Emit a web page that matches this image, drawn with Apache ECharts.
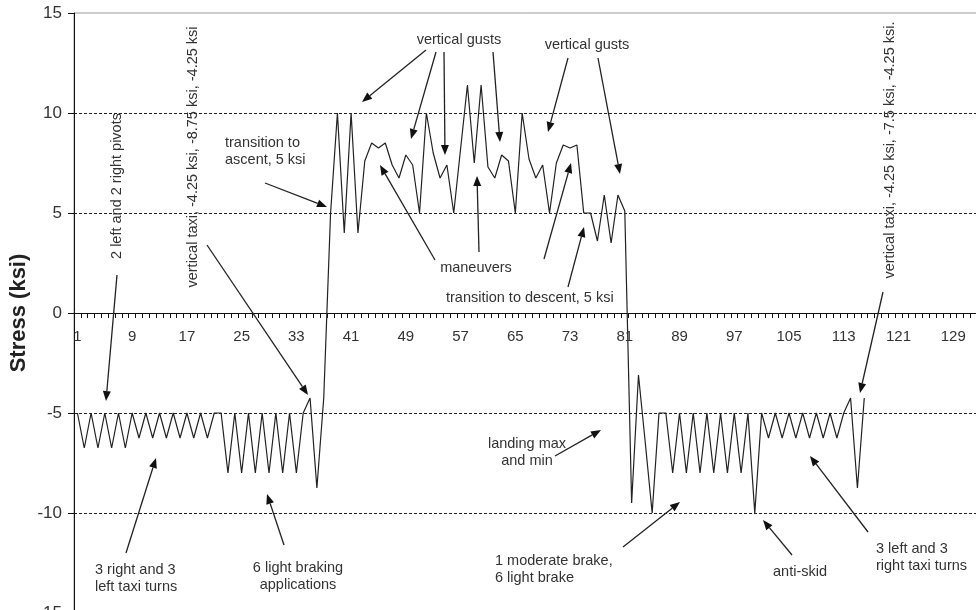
<!DOCTYPE html>
<html>
<head>
<meta charset="utf-8">
<script src="https://cdn.jsdelivr.net/npm/echarts@6/dist/echarts.min.js"></script>
<style>
html,body{margin:0;padding:0;background:#fff;}
#c{width:976px;height:610px;}
</style>
</head>
<body>
<div id="c"></div>
<script>
// ---- data ----
const categoryCount = 133;
const categories = Array.from({length: categoryCount}, (_, i) => String(i + 1));
const xTickLabels = ['1', '9', '17', '25', '33', '41', '49', '57', '65', '73', '81', '89', '97', '105', '113', '121', '129'];
const stress = [
  -5, -6.75, -5, -6.75, -5, -6.75, -5, -6.75, -5, -6.25,
  -5, -6.25, -5, -6.25, -5, -6.25, -5, -6.25, -5, -6.25,
  -5, -5, -8, -5, -8, -5, -8, -5, -8, -5,
  -8, -5, -8, -5, -4.25, -8.75, -4.25, 5, 10, 4,
  10, 4, 7.6, 8.5, 8.25, 8.5, 7.4, 6.75, 7.9, 7.4,
  5, 10, 8, 6.75, 7.4, 5, 8.2, 11.4, 7.5, 11.4,
  7.3, 6.75, 7.9, 7.6, 5, 10, 7.7, 6.75, 7.4, 5,
  7.5, 8.4, 8.25, 8.4, 5, 5, 3.6, 5.9, 3.5, 5.9,
  5.1, -9.5, -3.1, -6.5, -10, -5, -5, -8, -5, -8,
  -5, -8, -5, -8, -5, -8, -5, -8, -5, -10,
  -5, -6.25, -5, -6.25, -5, -6.25, -5, -6.25, -5, -6.25,
  -5, -6.25, -5, -4.25, -8.75, -4.25
];
const yTicks = {min: -15, max: 15, step: 5};
const yName = 'Stress (ksi)';

// ---- annotations (text and arrows, pixel layout) ----
const notes = [
  {t: 'vertical gusts', x: 459, y: 40, a: 'center'},
  {t: 'vertical gusts', x: 587, y: 45, a: 'center'},
  {t: 'transition to\nascent, 5 ksi', x: 225, y: 151, a: 'left'},
  {t: 'maneuvers', x: 476, y: 268, a: 'center'},
  {t: 'transition to descent, 5 ksi', x: 446, y: 298, a: 'left'},
  {t: 'landing max\nand min', x: 527, y: 452, a: 'center'},
  {t: '3 right and 3\nleft taxi turns', x: 95, y: 578, a: 'left'},
  {t: '6 light braking\napplications', x: 298, y: 576, a: 'center'},
  {t: '1 moderate brake,\n6 light brake', x: 495, y: 569, a: 'left'},
  {t: 'anti-skid', x: 800, y: 572, a: 'center'},
  {t: '3 left and 3\nright taxi turns', x: 876, y: 557, a: 'left'}
];
const vnotes = [
  {t: '2 left and 2 right pivots', x: 117, y: 186},
  {t: 'vertical taxi, -4.25 ksi, -8.75 ksi, -4.25 ksi', x: 193, y: 157},
  {t: 'vertical taxi, -4.25 ksi, -7.5 ksi, -4.25 ksi.', x: 890, y: 150}
];
const arrows = [
  [117, 275, 106, 401],
  [207, 245, 308, 395],
  [265, 183, 327, 207],
  [426, 50, 362, 102],
  [436, 52, 411, 139],
  [444, 52, 445, 155],
  [493, 52, 500, 142],
  [568, 58, 548, 132],
  [598, 58, 620, 174],
  [435, 260, 380, 165],
  [479, 252, 477, 176],
  [544, 259, 571, 163],
  [568, 287, 584, 227],
  [555, 456, 601, 430],
  [126, 553, 156, 458],
  [284, 545, 267, 494],
  [623, 547, 680, 502],
  [792, 555, 763, 520],
  [868, 532, 810, 456],
  [883, 292, 860, 393]
];

const FONT_FAMILY = '"Liberation Sans", Arial, sans-serif';

function buildGraphics(chart) {
  const els = [];
  const font = '14.5px ' + FONT_FAMILY;
  notes.forEach(n => {
    els.push({type: 'text', x: n.x, y: n.y, z: 100,
      style: {text: n.t, font: font, fill: '#333', align: n.a, verticalAlign: 'middle', lineHeight: 17}});
  });
  vnotes.forEach(n => {
    els.push({type: 'text', x: n.x, y: n.y, rotation: Math.PI / 2, z: 100,
      style: {text: n.t, font: font, fill: '#333', align: 'center', verticalAlign: 'middle'}});
  });
  arrows.forEach(a => {
    const [x1, y1, x2, y2] = a;
    const dx = x2 - x1, dy = y2 - y1;
    const len = Math.sqrt(dx * dx + dy * dy);
    const ux = dx / len, uy = dy / len;
    const hl = 10, hw = 4;
    const bx = x2 - ux * hl, by = y2 - uy * hl;
    els.push({type: 'line', z: 100, shape: {x1: x1, y1: y1, x2: bx, y2: by},
      style: {stroke: '#222', lineWidth: 1.3}});
    els.push({type: 'polygon', z: 100, shape: {points: [[x2, y2], [bx - uy * hw, by + ux * hw], [bx + uy * hw, by - ux * hw]]},
      style: {fill: '#111'}});
  });
  // category tick labels, placed through the library's own scales
  const y0 = chart.convertToPixel({yAxisIndex: 0}, 0);
  xTickLabels.forEach(lbl => {
    const px = chart.convertToPixel({xAxisIndex: 0}, lbl);
    els.push({type: 'text', x: px, y: y0 + 24, z: 50,
      style: {text: lbl, font: '15px ' + FONT_FAMILY, fill: '#333', align: 'center', verticalAlign: 'middle'}});
  });
  return els;
}

const chart = echarts.init(document.getElementById('c'), null, {renderer: 'canvas'});
chart.setOption({
  animation: false,
  backgroundColor: '#fff',
  grid: {left: 74, top: 13, right: -8, bottom: -3, show: true, borderColor: '#999', borderWidth: 1, outerBoundsMode: 'none', containLabel: false},
  xAxis: {
    type: 'category',
    data: categories,
    boundaryGap: true,
    axisLine: {onZero: true, lineStyle: {color: '#111', width: 1}},
    axisTick: {show: true, interval: 0, length: 5, lineStyle: {color: '#111'}},
    axisLabel: {show: false},
    splitLine: {show: false}
  },
  yAxis: {
    type: 'value',
    min: yTicks.min, max: yTicks.max, interval: yTicks.step,
    name: yName,
    nameLocation: 'middle',
    nameGap: 44,
    nameMoveOverlap: false,
    nameRotate: 90,
    nameTextStyle: {fontSize: 22, fontWeight: 'bold', color: '#222', fontFamily: FONT_FAMILY},
    axisLine: {show: true, onZero: false, lineStyle: {color: '#111', width: 1}},
    axisTick: {show: true, length: 6, lineStyle: {color: '#111'}},
    axisLabel: {color: '#333', fontSize: 17, margin: 12, fontFamily: FONT_FAMILY},
    splitLine: {show: true, showMinLine: false, showMaxLine: false, lineStyle: {color: '#222', type: [3, 2], width: 1}}
  },
  series: [{
    type: 'line',
    data: stress,
    showSymbol: false,
    symbol: 'none',
    lineStyle: {color: '#222', width: 1.2},
    z: 5
  }]
});
chart.setOption({graphic: buildGraphics(chart)});
</script>
</body>
</html>
